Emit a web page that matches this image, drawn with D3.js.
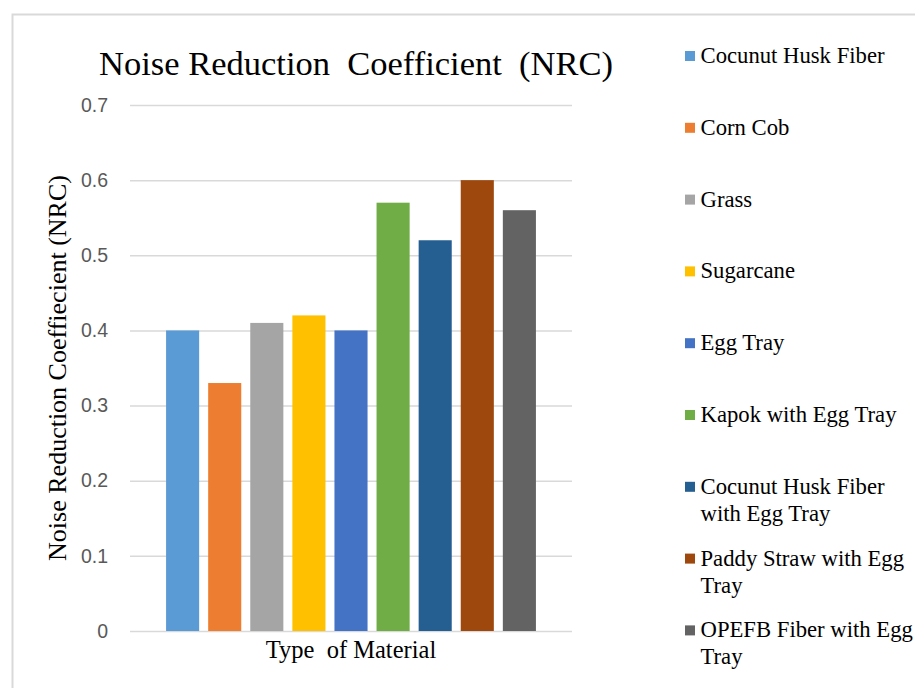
<!DOCTYPE html>
<html>
<head>
<meta charset="utf-8">
<script src="https://cdn.jsdelivr.net/npm/d3@7"></script>
<style>
	body { margin: 0; background: #fff; }
	svg { display: block; }
</style>
</head>
<body>
<div id="chart"></div>
<script>
'use strict';

// one category, nine series (Excel style clustered column)
const materials = [
	"Cocunut Husk Fiber",
	"Corn Cob",
	"Grass",
	"Sugarcane",
	"Egg Tray",
	"Kapok with Egg Tray",
	"Cocunut Husk Fiber with Egg Tray",
	"Paddy Straw with Egg Tray",
	"OPEFB Fiber with Egg Tray"
];
const nrc = [0.40, 0.33, 0.41, 0.42, 0.40, 0.57, 0.52, 0.60, 0.56];
const colors = ["#5b9bd5", "#ed7d31", "#a5a5a5", "#ffc000", "#4472c4", "#70ad47", "#255e91", "#9e480e", "#636363"];
const y_ticks = [0, 0.1, 0.2, 0.3, 0.4, 0.5, 0.6, 0.7];
// legend text broken the way the picture breaks it
const legend_lines = [
	["Cocunut Husk Fiber"],
	["Corn Cob"],
	["Grass"],
	["Sugarcane"],
	["Egg Tray"],
	["Kapok with Egg Tray"],
	["Cocunut Husk Fiber", "with Egg Tray"],
	["Paddy Straw with Egg", "Tray"],
	["OPEFB Fiber with Egg", "Tray"]
];

const width = 915;
const height = 688;
const margin = { top: 105, right: 343, bottom: 57, left: 130 };

const svg = d3.select("#chart")
	.append("svg")
		.attr("width", width)
		.attr("height", height);

// chart area frame, cut off at right and bottom
svg.append("rect")
	.attr("x", 12.5)
	.attr("y", 14.5)
	.attr("width", 1000)
	.attr("height", 1000)
	.attr("fill", "none")
	.attr("stroke", "#d9d9d9")
	.attr("stroke-width", 2);

const y = d3.scaleLinear()
	.domain([0, 0.7])
	.range([height - margin.bottom, margin.top]);

const x = d3.scaleBand()
	.domain(materials)
	.range([margin.left, width - margin.right])
	.paddingInner(0.214)
	.paddingOuter(0.857);

// gridlines + tick labels
const yAxis = g => g
	.attr("transform", `translate(${margin.left},0)`)
	.call(d3.axisLeft(y)
		.tickValues(y_ticks)
		.tickSize(-(width - margin.right - margin.left))
		.tickPadding(22)
		.tickFormat(d => d === 0 ? "0" : d3.format(".1f")(d)))
	.call(g => g.select(".domain").remove())
	.call(g => g.selectAll(".tick line")
		.attr("stroke", "#d9d9d9")
		.attr("stroke-width", 1.5))
	.call(g => g.selectAll(".tick text")
		.attr("fill", "#595959")
		.attr("font-family", "'Liberation Sans', Arial, sans-serif")
		.attr("font-size", 19.5));

svg.append("g")
	.attr("class", "y-axis")
	.call(yAxis);

svg.append("g")
		.attr("class", "bars")
	.selectAll("rect")
	.data(nrc)
	.join("rect")
		.attr("x", (d, i) => x(materials[i]))
		.attr("y", d => y(d))
		.attr("width", x.bandwidth())
		.attr("height", d => y(0) - y(d))
		.attr("fill", (d, i) => colors[i]);

const serif = "'Liberation Serif', 'Times New Roman', serif";

svg.append("text")
	.attr("x", 356)
	.attr("y", 75)
	.attr("text-anchor", "middle")
	.attr("font-family", serif)
	.attr("font-size", 34.5)
	.attr("fill", "#000")
	.attr("xml:space", "preserve")
	.text("Noise Reduction  Coefficient  (NRC)");

svg.append("text")
	.attr("transform", `translate(66,${(y(0) + y(0.7)) / 2}) rotate(-90)`)
	.attr("text-anchor", "middle")
	.attr("font-family", serif)
	.attr("font-size", 26)
	.attr("fill", "#000")
	.text("Noise Reduction Coeffiecient (NRC)");

svg.append("text")
	.attr("x", (margin.left + width - margin.right) / 2)
	.attr("y", 658)
	.attr("text-anchor", "middle")
	.attr("font-family", serif)
	.attr("font-size", 24.5)
	.attr("fill", "#000")
	.attr("xml:space", "preserve")
	.text("Type  of Material");

// legend
const legend = svg.append("g")
	.attr("class", "legend")
	.attr("transform", "translate(685,56)");

const item = legend.selectAll("g")
	.data(materials)
	.join("g")
		.attr("transform", (d, i) => `translate(0,${i * 71.8})`);

item.append("rect")
	.attr("x", 0)
	.attr("y", -5)
	.attr("width", 10)
	.attr("height", 10)
	.attr("fill", (d, i) => colors[i]);

item.append("text")
	.attr("font-family", serif)
	.attr("font-size", 22.7)
	.attr("fill", "#000")
	.selectAll("tspan")
	.data((d, i) => legend_lines[i])
	.join("tspan")
		.attr("x", 15.5)
		.attr("y", (d, j) => 7 + j * 27)
		.text(d => d);
</script>
</body>
</html>
